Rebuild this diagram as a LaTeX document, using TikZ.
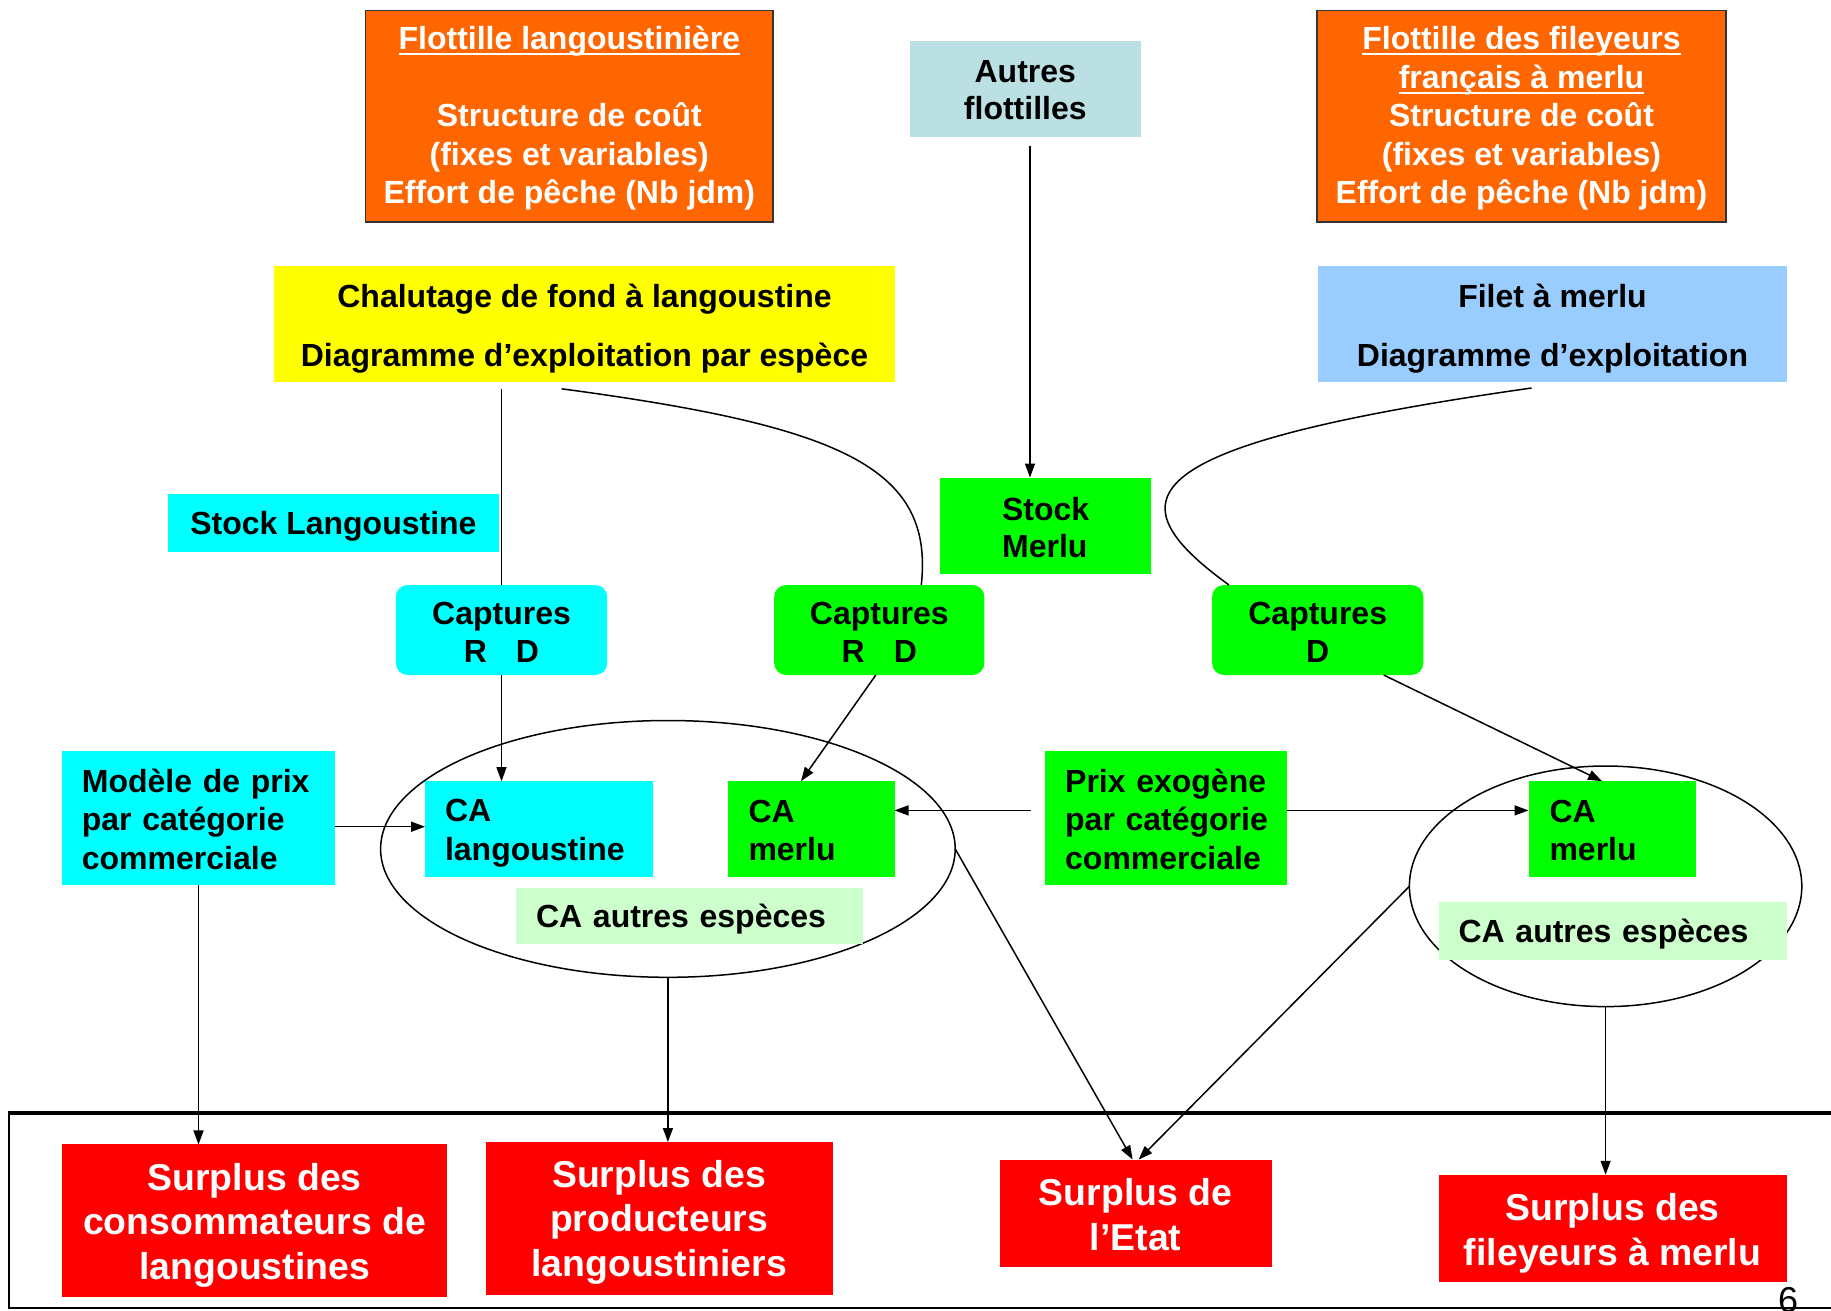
\documentclass[tikz,border=0pt]{standalone}
\usepackage{fontspec}
\setmainfont{Liberation Sans}
\usetikzlibrary{arrows.meta,shapes.geometric}
\definecolor{orng}{HTML}{FF6600}
\definecolor{grayblue}{HTML}{BBE0E3}
\definecolor{yel}{HTML}{FFFF00}
\definecolor{lblue}{HTML}{99CCFF}
\definecolor{cyn}{HTML}{00FFFF}
\definecolor{grn}{HTML}{00FF00}
\definecolor{lgrn}{HTML}{CCFFCC}
\definecolor{rd}{HTML}{FF0000}
\newcommand\fsz[2]{\fontsize{#1}{#2}\selectfont}
\newcommand\ulx[1]{\sbox0{#1}\rlap{\rule[-5.5pt]{\wd0}{2pt}}\usebox0}
\newcommand\vsh[1]{\rule{0pt}{#1pt}}
\tikzset{
  bx/.style={rectangle, inner sep=0pt, outer sep=0pt, align=center, font=\bfseries\fsz{32}{38.5}},
  lbx/.style={bx, align=left, inner xsep=20pt},
  rbx/.style={bx, fill=rd, text=white, font=\bfseries\fsz{37.4}{44.4}},
  obx/.style={bx, fill=orng, text=white, draw=black!80, line width=1.5pt},
  ln/.style={line width=1.5pt},
  arr/.style={line width=1.5pt, -{Triangle[length=14pt,width=10pt]}},
  ell/.style={ellipse, draw, line width=1.5pt, inner sep=0pt, outer sep=0pt}
}
\begin{document}
\begin{tikzpicture}[x=1pt,y=-1pt]
\useasboundingbox (0,0) rectangle (1831,1310);
% bottom frame
\draw[line width=2pt] (1840,1308) -- (9.3,1308) -- (9.3,1113);
\draw[line width=3.5pt] (7.5,1113) -- (1840,1113);

% ellipses
\node[ell, minimum width=574.6, minimum height=256.8] (ell1) at (667.9,848.9) {};
\node[ell, minimum width=392.4, minimum height=240.6] (ell2) at (1605.6,886.3) {};

% top boxes
\node[obx, minimum width=407.5, minimum height=211.4] (or1) at (569.3,116.2)
  {\vsh{27.5}\ulx{Flottille langoustinière}\\[38.5pt]Structure de coût\\(fixes et variables)\\Effort de pêche (Nb jdm)};
\node[bx, fill=grayblue, minimum width=231.3, minimum height=95.7, font=\bfseries\fsz{32}{37.4}] (autres) at (1025.3,88.8)
  {\vsh{25.3}Autres\\flottilles};
\node[obx, minimum width=408.7, minimum height=211.4] (or2) at (1521.5,116.2)
  {\vsh{28}\ulx{Flottille des fileyeurs}\hspace{7pt}\\\ulx{français à merlu}\hspace{7pt}\\Structure de coût\hspace{7pt}\\(fixes et variables)\hspace{7pt}\\Effort de pêche (Nb jdm)\hspace{7pt}};
\node[bx, fill=yel, minimum width=620.1, minimum height=115.6, font=\bfseries\fsz{32}{58.4}] (yellow) at (584.5,324)
  {\vsh{32.5}Chalutage de fond à langoustine\\Diagramme d’exploitation par espèce};
\node[bx, fill=lblue, minimum width=468.3, minimum height=115.6, font=\bfseries\fsz{32}{58.4}] (blue) at (1552.5,324)
  {\vsh{32.5}Filet à merlu\\Diagramme d’exploitation};

% stocks
\node[bx, fill=cyn, minimum width=330.5, minimum height=58.4] (stockL) at (333.4,523.1)
  {\vsh{30}Stock Langoustine};
\node[bx, fill=grn, align=left, minimum width=211.4, minimum height=96.9, font=\bfseries\fsz{32}{37.4}] (stockM) at (1045.7,526)
  {\vsh{26.3}Stock\\Merlu};

% captures
\node[bx, fill=cyn, rounded corners=12pt, minimum width=211.4, minimum height=90] (captC) at (501.5,630)
  {\vsh{26.8}Captures\\R\hspace{29pt}D};
\node[bx, fill=grn, rounded corners=12pt, minimum width=210.2, minimum height=90] (captG) at (879.3,630)
  {\vsh{26.8}Captures\\R\hspace{29pt}D};
\node[bx, fill=grn, rounded corners=12pt, minimum width=211.3, minimum height=90] (captD) at (1317.7,630)
  {\vsh{26.8}Captures\\D};

% middle row
\node[lbx, fill=cyn, minimum width=273.2, minimum height=134.3, text width=233.2] (modele) at (198.5,818)
  {\vsh{25.3}\mbox{Modèle de prix}\\\mbox{par catégorie}\\\mbox{commerciale}};
\node[lbx, fill=cyn, minimum width=227.7, minimum height=95.7, text width=187.7] (caL) at (538.9,829)
  {\vsh{30.3}CA\\langoustine};
\node[lbx, fill=grn, inner xsep=21pt, minimum width=167, minimum height=95.7, text width=125] (caM1) at (811,829)
  {\vsh{25.3}CA\\merlu};
\node[lbx, fill=lgrn, minimum width=346.8, minimum height=56, text width=306.8] (caA1) at (689.5,915.5)
  {\vsh{30}\mbox{CA autres espèces}};
\node[lbx, fill=grn, minimum width=241.7, minimum height=134.3, text width=201.7] (prix) at (1166,818)
  {\vsh{25.3}\mbox{Prix exogène}\\\mbox{par catégorie}\\\mbox{commerciale}};
\node[lbx, fill=grn, inner xsep=21pt, minimum width=167, minimum height=95.7, text width=125] (caM2) at (1612,829)
  {\vsh{25.3}CA\\merlu};
\node[lbx, fill=lgrn, minimum width=348, minimum height=58.4, text width=308] (caA2) at (1612.6,930.7)
  {\vsh{30}\mbox{CA autres espèces}};

% surplus
\node[rbx, minimum width=385.3, minimum height=152.9] (red1) at (254.6,1220.9)
  {\vsh{35.3}Surplus des\\consommateurs de\\langoustines};
\node[rbx, minimum width=346.8, minimum height=153] (red2) at (659.2,1218.5)
  {\vsh{34.3}Surplus des\\producteurs\\langoustiniers};
\node[rbx, minimum width=272.1, minimum height=107.5] (red3) at (1135.6,1213.3)
  {\vsh{29.7}Surplus de\\l’Etat};
\node[rbx, minimum width=348, minimum height=107.5] (red4) at (1612.6,1228.5)
  {\vsh{36.7}Surplus des\\fileyeurs à merlu};

\node[font=\fsz{36}{40}, anchor=base, inner sep=0pt] (pnum) at (1788,1312) {6};

% connectors
\coordinate (a1s) at ([xshift=4.7pt,yshift=-9pt]autres.south);
\draw[arr] (a1s) -- (a1s |- stockM.north);
\coordinate (a2s) at (captC.north |- yellow.south);
\draw[ln] ([yshift=-7pt]a2s) -- (captC.north);
\draw[ln] ([xshift=-22.8pt,yshift=-7pt]yellow.south) .. controls (840.7,426.2) and (934.2,467.1) .. ([xshift=42pt]captG.north);
\draw[ln] ([xshift=-21pt,yshift=-6.2pt]blue.south) .. controls (1131,445) and (1109,498) .. ([xshift=-88.7pt]captD.north);
\draw[arr] (captC.south) -- (captC.south |- caL.north);
\draw[arr] ([xshift=-3.5pt]captG.south) -- ([xshift=-10pt]caM1.north);
\draw[arr] ([xshift=66pt]captD.south) -- ([xshift=-10pt]caM2.north);
\coordinate (a8s) at ([yshift=-8.7pt]modele.east);
\draw[arr] (a8s) -- (a8s -| caL.west);
\coordinate (a9s) at ([xshift=-14pt,yshift=7.6pt]prix.west);
\draw[arr] (a9s) -- (a9s -| caM1.east);
\coordinate (a10s) at ([yshift=7.6pt]prix.east);
\draw[arr] (a10s) -- (a10s -| caM2.west);
\draw[arr] (modele.south) -- (modele.south |- red1.north);
\draw[arr] (ell1.south) -- (ell1.south |- red2.north);
\draw[arr] (ell1.east) -- ([xshift=-3pt]red3.north);
\draw[arr] (ell2.west) -- ([xshift=3pt]red3.north);
\draw[arr] (ell2.south) -- (ell2.south |- red4.north);
\end{tikzpicture}
\end{document}
